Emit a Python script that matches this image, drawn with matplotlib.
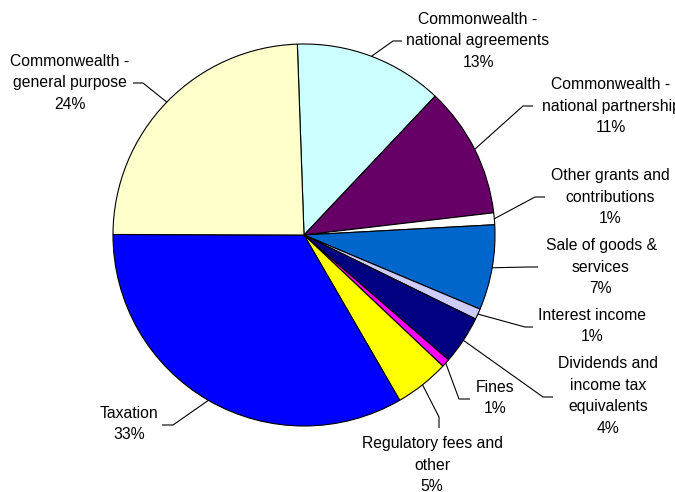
import numpy as np
import matplotlib.pyplot as plt

plt.rcParams['font.family'] = ['Liberation Sans', 'DejaVu Sans']

# revenue sources, clockwise from the top
sources = ['Commonwealth -\nnational agreements',
           'Commonwealth -\nnational partnership',
           'Other grants and\ncontributions',
           'Sale of goods &\nservices',
           'Interest income',
           'Dividends and\nincome tax\nequivalents',
           'Fines',
           'Regulatory fees and\nother',
           'Taxation',
           'Commonwealth -\ngeneral purpose']
shares = [12.6, 11.1, 1.0, 7.2, 0.9, 4.1, 0.7, 4.6, 33.4, 24.4]
colours = ['#CCFFFF', '#660066', '#FFFFFF', '#0066CC', '#CCCCFF',
           '#000080', '#FF00FF', '#FFFF00', '#0000FF', '#FFFFCC']

# label block centre, leader elbow and leader end (pixel coords, y down)
label_pos = [(478, 41), (611, 106), (610, 197), (601, 267), (592, 326),
             (608, 396), (495, 398), (432, 465), (129, 424), (70, 83)]
elbows = [(393, 41), (523, 106), (535, 197), (528, 267), (525, 327),
          (543, 397), (459, 399), (439, 417), (173, 425), (143, 83)]
ends = [(402, 41), (533, 106), (545, 197), (538, 267), (533, 327),
        (553, 397), (470, 399), (439, 428), (162, 425), (133, 83)]

W, H = 675, 492
cx, cy, r = 304, 235, 191

fig = plt.figure(figsize=(W / 100, H / 100), dpi=100)
ax = fig.add_axes([0, 0, 1, 1])

wedges, _ = ax.pie(shares, colors=colours, startangle=-92, counterclock=True,
                   center=(cx, cy), radius=r,
                   wedgeprops=dict(edgecolor='black', linewidth=0.8))

ax.set_xlim(0, W)
ax.set_ylim(H, 0)
ax.set_aspect('equal')
ax.axis('off')

for w, name, v, pos, elb, end in zip(wedges, sources, shares, label_pos, elbows, ends):
    mid = np.deg2rad((w.theta1 + w.theta2) / 2)
    ex = cx + r * np.cos(mid)
    ey = cy + r * np.sin(mid)
    ax.plot([ex, elb[0], end[0]], [ey, elb[1], end[1]], color='black', lw=0.8,
            solid_capstyle='butt')
    ax.text(pos[0], pos[1], f'{name}\n{v:.0f}%', ha='center', va='center',
            multialignment='center', fontsize=11.3, linespacing=1.55, color='black')

fig.savefig('out.png', dpi=100)
